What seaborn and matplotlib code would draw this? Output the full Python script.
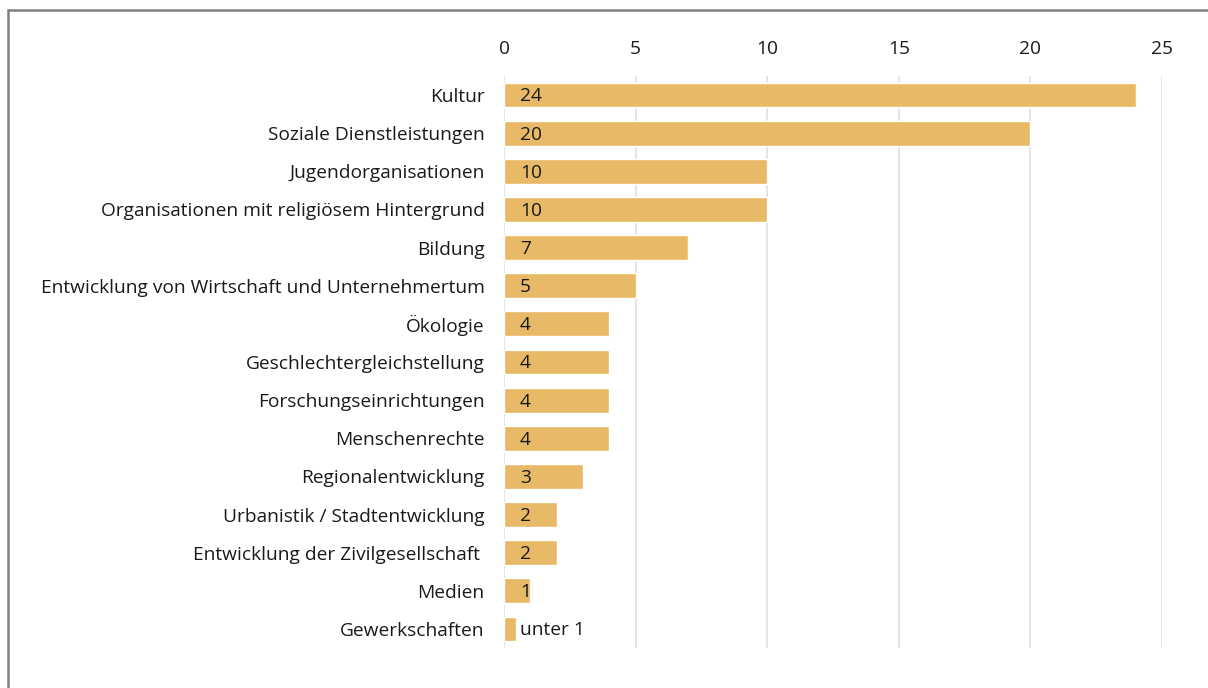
import matplotlib
matplotlib.use("Agg")
import matplotlib.pyplot as plt
import seaborn as sns
import pandas as pd
from matplotlib.patches import Rectangle

categories = [
    "Kultur",
    "Soziale Dienstleistungen",
    "Jugendorganisationen",
    "Organisationen mit religiösem Hintergrund",
    "Bildung",
    "Entwicklung von Wirtschaft und Unternehmertum",
    "Ökologie",
    "Geschlechtergleichstellung",
    "Forschungseinrichtungen",
    "Menschenrechte",
    "Regionalentwicklung",
    "Urbanistik / Stadtentwicklung",
    "Entwicklung der Zivilgesellschaft ",
    "Medien",
    "Gewerkschaften",
]
values = [24, 20, 10, 10, 7, 5, 4, 4, 4, 4, 3, 2, 2, 1, 0.45]
value_labels = ["24", "20", "10", "10", "7", "5", "4", "4", "4", "4", "3", "2", "2", "1", "unter 1"]
x_ticks = [0, 5, 10, 15, 20, 25]

df = pd.DataFrame({"Bereich": categories, "Wert": values})

sns.set_theme(style="white")
plt.rcParams["font.family"] = ["Open Sans", "DejaVu Sans"]

fs = 13.8
fig = plt.figure(figsize=(12.08, 6.88), dpi=100)
ax = fig.add_axes([504 / 1208, 1 - 648 / 688, (1162 - 504) / 1208, (648 - 76) / 688])

bar_color = "#E8BA67"
sns.barplot(data=df, x="Wert", y="Bereich", orient="h", color=bar_color,
            width=0.65, saturation=1, ax=ax, zorder=3)

ax.set_xlim(0, 25)
ax.set_ylim(14.5, -0.5)
ax.set_xticks(x_ticks)
ax.xaxis.tick_top()
ax.tick_params(axis="x", length=0, pad=13, labelsize=fs, colors="#1a1a1a")
ax.tick_params(axis="y", length=0, pad=14, labelsize=fs, colors="#1a1a1a")
ax.set_xlabel("")
ax.set_ylabel("")
ax.grid(axis="x", color="#e3e3e3", linewidth=1.3, zorder=0)
ax.grid(axis="y", visible=False)
for s in ax.spines.values():
    s.set_visible(False)

# value labels near the start of each bar
for i, lab in enumerate(value_labels):
    ax.annotate(lab, xy=(0, i), xytext=(11.5, -1), textcoords="offset points",
                va="center", ha="left", fontsize=fs, color="#1a1a1a", zorder=4)

# outer frame
fig.patches.append(Rectangle((8 / 1208, -0.1), 1.2, 1 - 10 / 688 + 0.1,
                             transform=fig.transFigure, fill=False,
                             edgecolor="#808080", linewidth=1.8))

fig.savefig("out.png", dpi=100)
